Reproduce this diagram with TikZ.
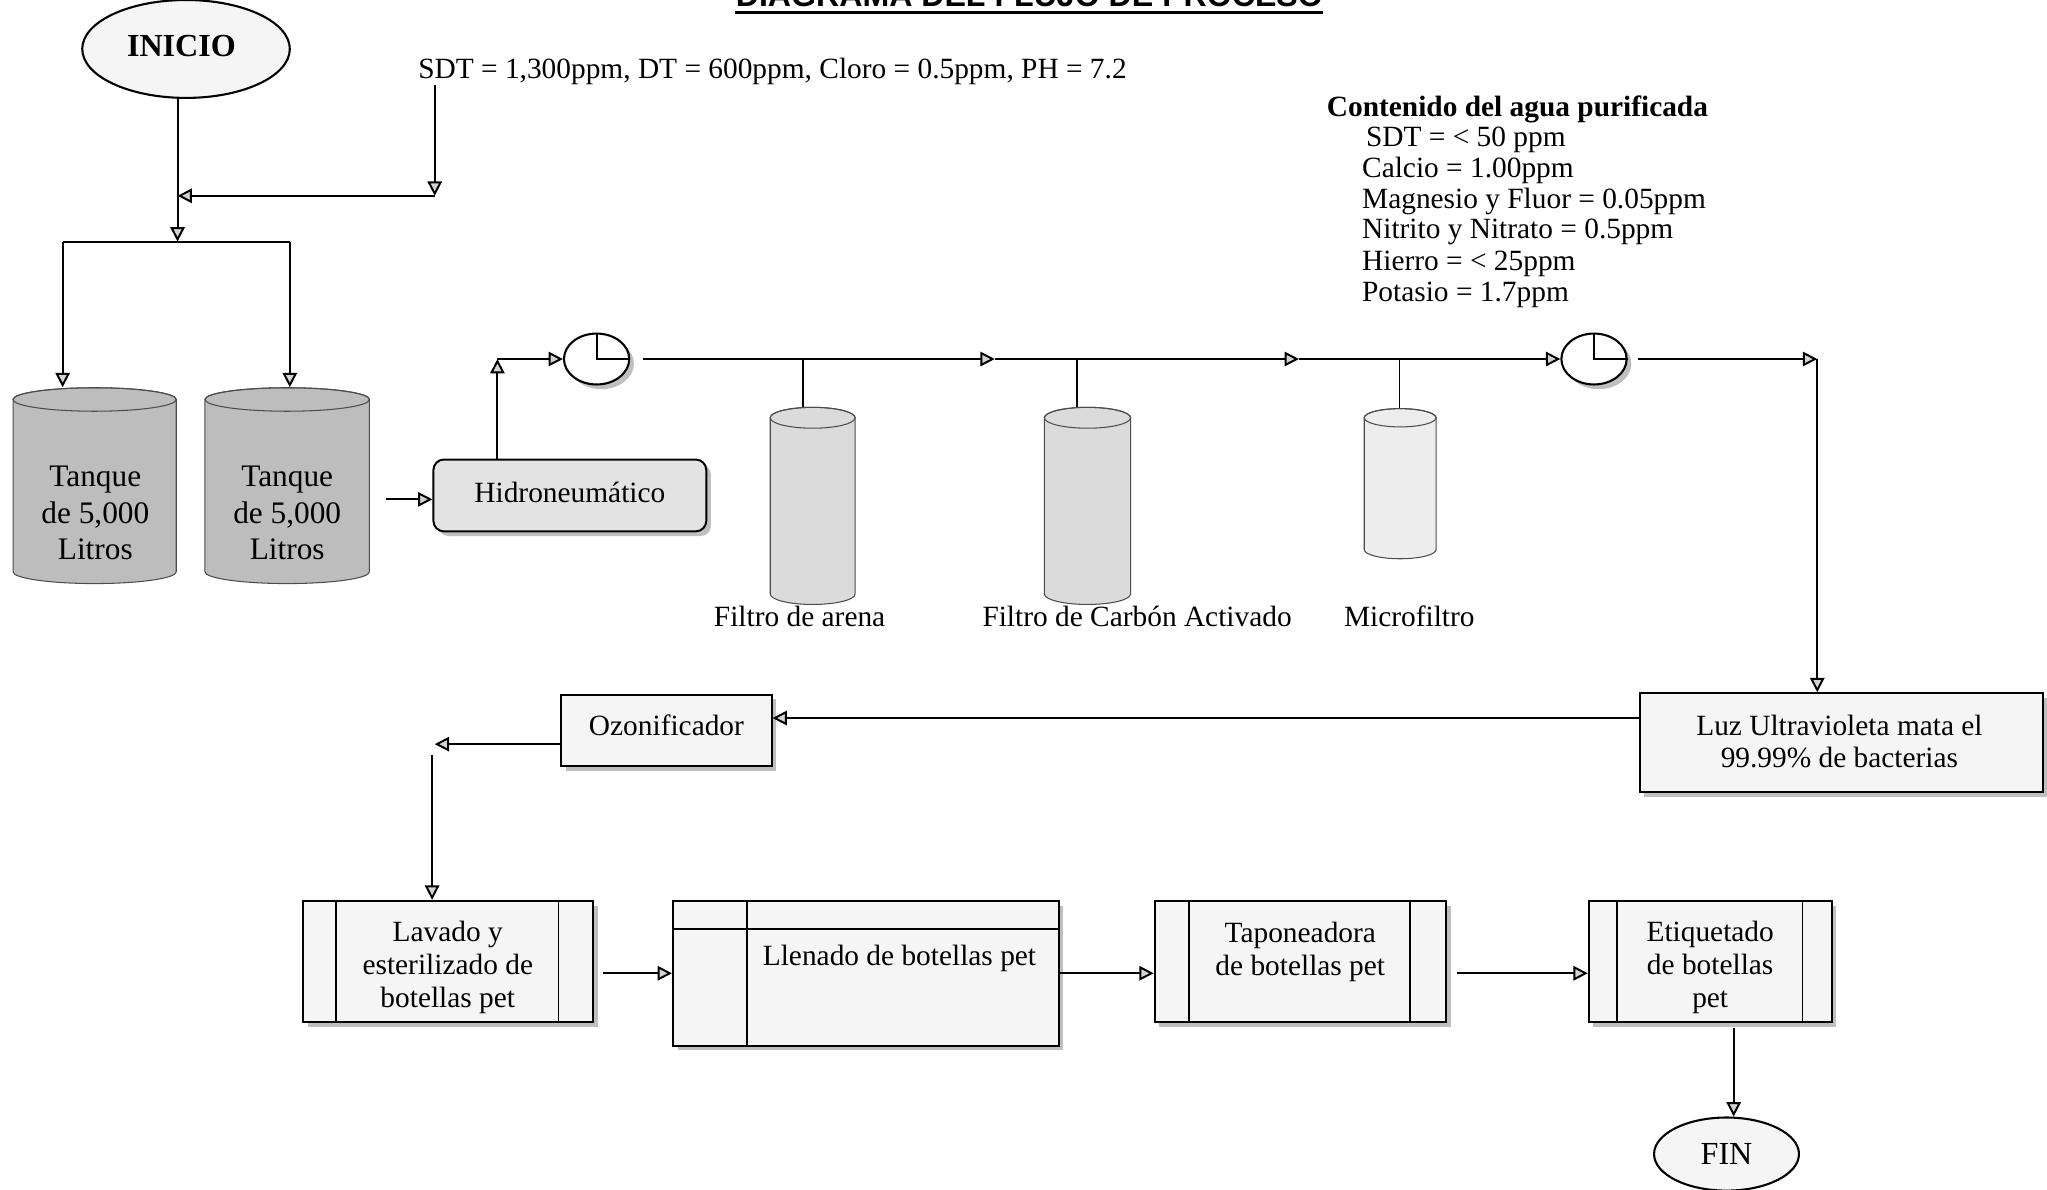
\documentclass[tikz,border=0pt]{standalone}
\usepackage{fontspec}
\setmainfont{Liberation Serif}
\newfontfamily\titlefont{Liberation Sans}
\usetikzlibrary{arrows.meta,shapes.geometric,shadows,calc}

% #1 left, #2 right, #3 top, #4 bottom, #5 half height of ellipse, #6 fill
\newcommand{\mycyl}[6]{%
  \pgfmathsetmacro\cylcx{(#1+#2)/2}%
  \pgfmathsetmacro\cylrx{(#2-#1)/2}%
  \filldraw[fill=#6, draw=gray!60!black, line width=0.4pt]
    (#1,#3+#5) -- (#1,#4-#5)
    arc[start angle=180, end angle=0, x radius=\cylrx, y radius=#5]
    -- (#2,#3+#5)
    arc[start angle=0, end angle=-180, x radius=\cylrx, y radius=#5] -- cycle;
  \draw[gray!60!black, line width=0.4pt] (\cylcx,#3+#5) ellipse[x radius=\cylrx, y radius=#5];
}

\begin{document}
\begin{tikzpicture}[x=0.5pt,y=-0.5pt,
  font=\fontsize{11.25pt}{12.5pt}\selectfont,
  conn/.style={draw, line width=0.75pt},
  flow/.style={conn, -{Triangle[length=5.5pt,width=5.5pt,fill=gray!35]}},
  shad/.style={drop shadow={shadow xshift=1.8pt, shadow yshift=-1.8pt, fill=gray!50, opacity=1}},
  box/.style={rectangle, draw, line width=0.75pt, fill=gray!8, inner sep=0pt, align=center, shad},
  term/.style={ellipse, draw, line width=0.8pt, fill=gray!8, inner sep=0pt},
  meter/.style={ellipse, draw, line width=0.8pt, fill=white, inner sep=0pt,
                minimum width=25pt, minimum height=19.5pt, shad},
  lbl/.style={inner sep=0pt, align=center},
  inner/.style={draw, line width=0.6pt}
]
\useasboundingbox (0,0) rectangle (1568,911);

% title (cut off at the top, as in the reference)
\node[lbl, anchor=base, font=\titlefont\bfseries\fontsize{12.3pt}{14pt}\selectfont] (title) at (788.5,5) {DIAGRAMA DEL FLUJO DE PROCESO};
\draw[line width=1pt] ($(title.base west)+(0,4.4)$) -- ($(title.base east)+(0,4.4)$);

% start
\node[term, minimum width=79.5pt, minimum height=37.5pt] (inicio) at (142.5,37.5) {};
\node[lbl, font=\fontsize{12.3pt}{14pt}\selectfont\bfseries] (iniciot) at (139,35) {INICIO};

% raw water data
\node[lbl, anchor=base west] (sdt) at (320,60) {SDT = 1,300ppm, DT = 600ppm, Cloro = 0.5ppm, PH = 7.2};

% purified water data
\node[lbl, anchor=base west, font=\fontsize{11.25pt}{12.5pt}\selectfont\bfseries] (cont) at (1016,89) {Contenido del agua purificada};
\node[lbl, anchor=base west] (ct1) at (1046,112) {SDT = < 50 ppm};
\node[lbl, anchor=base west] (ct2) at (1043,136) {Calcio = 1.00ppm};
\node[lbl, anchor=base west] (ct3) at (1043,160) {Magnesio y Fluor = 0.05ppm};
\node[lbl, anchor=base west] (ct4) at (1043,183) {Nitrito y Nitrato = 0.5ppm};
\node[lbl, anchor=base west] (ct5) at (1043,207) {Hierro = < 25ppm};
\node[lbl, anchor=base west] (ct6) at (1043,231) {Potasio = 1.7ppm};

% tanks
\mycyl{10}{135}{297}{447}{9}{gray!52}
\mycyl{157}{283}{297}{447}{9}{gray!52}
\node[lbl, minimum width=62.5pt, minimum height=75pt] (tk1) at (72.5,372) {};
\node[lbl, minimum width=63pt, minimum height=75pt] (tk2) at (220,372) {};
\node[lbl, font=\fontsize{12pt}{14pt}\selectfont] (tk1t) at (73,393) {Tanque\\de 5,000\\Litros};
\node[lbl, font=\fontsize{12pt}{14pt}\selectfont] (tk2t) at (220,393) {Tanque\\de 5,000\\Litros};

% hydropneumatic
\node[box, rounded corners=4pt, fill=gray!22, minimum width=104.5pt, minimum height=27.5pt] (hidro) at (436.5,379.5) {};
\node[lbl] (hidrot) at (436.5,377) {Hidroneumático};

% meters
\node[meter] (m1) at (457,275) {};
\draw[line width=0.8pt] (m1.north) -- (m1.center) -- (m1.east);
\node[meter] (m2) at (1221,275) {};
\draw[line width=0.8pt] (m2.north) -- (m2.center) -- (m2.east);

% filters
\mycyl{590}{655}{312}{463}{8}{gray!28}
\mycyl{800}{866}{312}{463}{8}{gray!28}
\mycyl{1045}{1100}{313}{428}{7}{gray!14}
\node[lbl, minimum width=32.5pt, minimum height=75.5pt] (f1) at (622.5,387.5) {};
\node[lbl, minimum width=33pt, minimum height=75.5pt] (f2) at (833,387.5) {};
\node[lbl, minimum width=27.5pt, minimum height=57.5pt] (f3) at (1072.5,370.5) {};
\node[lbl] (l1) at (612.5,472) {Filtro de arena};
\node[lbl] (l2) at (871,472) {Filtro de Carbón Activado};
\node[lbl] (l3) at (1079.5,472) {Microfiltro};

% UV and ozone
\node[box, minimum width=154.5pt, minimum height=38pt] (luz) at (1410.5,569) {};
\node[lbl] (luzt) at (1409,568) {Luz Ultravioleta mata el\\99.99\% de bacterias};
\node[box, minimum width=80.5pt, minimum height=27.5pt] (ozo) at (510.5,559.5) {};
\node[lbl] (ozot) at (510.5,555.5) {Ozonificador};

% bottling line
\node[box, minimum width=111.25pt, minimum height=46.5pt] (lav) at (343.25,736.5) {};
\node[lbl] (lavt) at (343,741) {Lavado y\\esterilizado de\\botellas pet};
\draw[inner] ([xshift=13pt]lav.north west) -- ([xshift=13pt]lav.south west);
\draw[inner] ([xshift=-13.75pt]lav.north east) -- ([xshift=-13.75pt]lav.south east);

\node[box, minimum width=147.75pt, minimum height=55.5pt] (lle) at (663.25,745.5) {};
\node[lbl] (llet) at (689,734) {Llenado de botellas pet};
\draw[inner] ([yshift=-11.2pt]lle.north west) -- ([yshift=-11.2pt]lle.north east);
\draw[inner] ([xshift=28.75pt]lle.north west) -- ([xshift=28.75pt]lle.south west);

\node[box, minimum width=111.5pt, minimum height=46.5pt] (tap) at (996,736.5) {};
\node[lbl] (tapt) at (996,729) {Taponeadora\\de botellas pet};
\draw[inner] ([xshift=13.5pt]tap.north west) -- ([xshift=13.5pt]tap.south west);
\draw[inner] ([xshift=-14pt]tap.north east) -- ([xshift=-14pt]tap.south east);

\node[box, minimum width=93pt, minimum height=46.5pt] (eti) at (1310,736.5) {};
\node[lbl] (etit) at (1310,741) {Etiquetado\\de botellas\\pet};
\draw[inner] ([xshift=11.25pt]eti.north west) -- ([xshift=11.25pt]eti.south west);
\draw[inner] ([xshift=-11.5pt]eti.north east) -- ([xshift=-11.5pt]eti.south east);

\node[term, minimum width=55.5pt, minimum height=28pt, font=\fontsize{12.3pt}{14pt}\selectfont] (fin) at (1322.5,884) {FIN};

% connector points
\coordinate (sj) at (333,150);
\coordinate (jt) at (136,150);
\coordinate (jb) at (136,185);
\coordinate (bl) at (48,185);
\coordinate (br) at (222,185);
\coordinate (c1) at (381,275);
\coordinate (j1) at (762,275);
\coordinate (j2) at (995,275);
\coordinate (c2) at (1392,275);
\coordinate (d1) at (615,275);
\coordinate (d2) at (825,275);
\coordinate (d3) at (1072,275);
\coordinate (ya) at (900,550);
\coordinate (oc) at (333,570);
\coordinate (ov) at (331,578);
\coordinate (fx) at (1328,0);

% connectors
\draw[flow] (sdt.south -| sj) -- (sj);
\draw[flow] (sj) -- (jt);
\draw[flow] (inicio.south -| jt) -- (jb);
\draw[conn] (bl) -- (br);
\draw[flow] (bl) -- (bl |- tk1.north);
\draw[flow] (br) -- (br |- tk2.north);
\draw[flow] ($(tk2.east |- hidro.west)+(12,3)$) -- ($(hidro.west)+(0,3)$);
\draw[flow] (hidro.north -| c1) -- (c1);
\draw[flow] (c1) -- (m1.west);
\draw[flow] ($(m1.east)+(10,0)$) -- (j1);
\draw[flow] (j1) -- (j2);
\draw[flow] (j2) -- (m2.west);
\draw[flow] ($(m2.east)+(8,0)$) -- (c2);
\draw[flow] (c2) -- (luz.north -| c2);
\draw[conn, line width=0.5pt] (d1) -- (d1 |- f1.north);
\draw[conn, line width=0.5pt] (d2) -- (d2 |- f2.north);
\draw[conn, line width=0.5pt] (d3) -- (d3 |- f3.north);
\draw[flow] (luz.west |- ya) -- (ozo.east |- ya);
\draw[flow] (ozo.west |- oc) -- (oc);
\draw[flow] (ov) -- (ov |- lav.north);
\draw[flow] ($(lav.east |- lle.west)+(7,0)$) -- (lle.west);
\draw[flow] (lle.east) -- (tap.west |- lle.east);
\draw[flow] ($(tap.east |- lle.east)+(8,0)$) -- (eti.west |- lle.east);
\draw[flow] ($(eti.south -| fx)+(0,4)$) -- (fin.north -| fx);
\end{tikzpicture}
\end{document}
